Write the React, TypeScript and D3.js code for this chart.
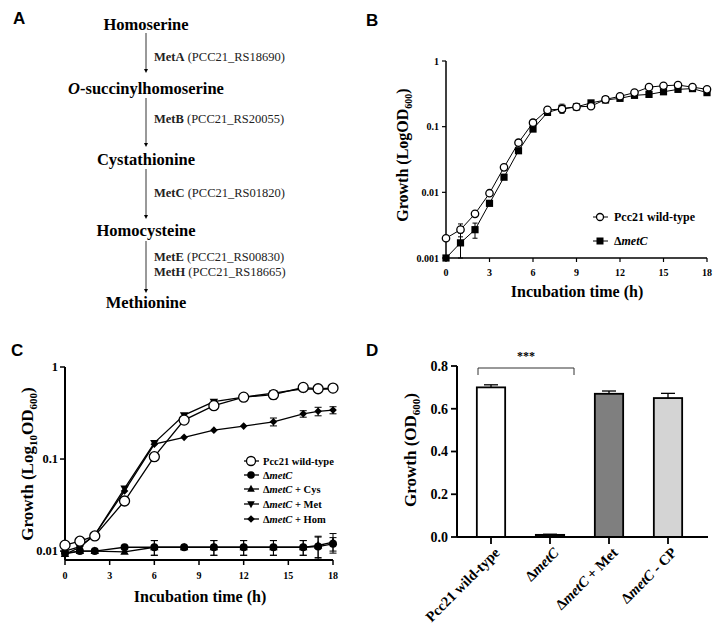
import React from 'react';
import * as d3 from 'd3';

// ---------- Panel A: pathway ----------
const pathwaySteps = ['Homoserine', 'O-succinylhomoserine', 'Cystathionine', 'Homocysteine', 'Methionine'];
const enzymeLabels = [
  [['MetA', 'PCC21_RS18690']],
  [['MetB', 'PCC21_RS20055']],
  [['MetC', 'PCC21_RS01820']],
  [['MetE', 'PCC21_RS00830'], ['MetH', 'PCC21_RS18665']],
];

// ---------- Panel B ----------
const hoursB = [0, 1, 2, 3, 4, 5, 6, 7, 8, 9, 10, 11, 12, 13, 14, 15, 16, 17, 18];
const wtB = [0.002, 0.0027, 0.0047, 0.0097, 0.024, 0.057, 0.115, 0.18, 0.185, 0.2, 0.205, 0.26, 0.29, 0.33, 0.4, 0.42, 0.43, 0.4, 0.37];
const wtBErr = [0, 0.0006, 0, 0, 0, 0, 0, 0, 0.02, 0, 0, 0, 0, 0, 0, 0, 0, 0, 0];
const metCB = [0.001, 0.0017, 0.0027, 0.0068, 0.017, 0.043, 0.092, 0.165, 0.19, 0.2, 0.23, 0.255, 0.27, 0.3, 0.31, 0.34, 0.37, 0.38, 0.33];
const metCBErr = [0, 0.0007, 0.0007, 0, 0, 0, 0, 0, 0.03, 0, 0, 0, 0, 0, 0, 0, 0, 0, 0];
const ticksB = [0, 3, 6, 9, 12, 15, 18];
const yTicksB = [0.001, 0.01, 0.1, 1];

// ---------- Panel C ----------
const hoursC = [0, 1, 2, 4, 6, 8, 10, 12, 14, 16, 17, 18];
const wtC = [0.0116, 0.0128, 0.0146, 0.035, 0.106, 0.265, 0.38, 0.47, 0.5, 0.6, 0.58, 0.59];
const wtCErr = [0, 0, 0, 0, 0, 0, 0.02, 0, 0.05, 0, 0, 0];
const metCC = [0.0095, 0.01, 0.01, 0.011, 0.011, 0.011, 0.011, 0.011, 0.011, 0.011, 0.0112, 0.012];
const metCCErr = [0, 0, 0, 0, 0.002, 0, 0.002, 0.002, 0.002, 0.002, 0.003, 0.002];
const cysC = [0.0093, 0.01, 0.01, 0.0098, 0.011, 0.011, 0.011, 0.011, 0.011, 0.011, 0.0115, 0.0125];
const cysCErr = [0, 0, 0, 0, 0.002, 0, 0.002, 0.002, 0.002, 0.002, 0.003, 0.003];
const metC_Met = [0.0092, 0.011, 0.015, 0.048, 0.15, 0.3, 0.42, 0.47, 0.52, 0.58, 0.57, 0.58];
const metC_Hom = [0.01, 0.0112, 0.015, 0.045, 0.145, 0.172, 0.206, 0.228, 0.254, 0.31, 0.33, 0.34];
const homErr = [0, 0, 0, 0, 0, 0, 0, 0, 0.025, 0.025, 0.035, 0.03];
const ticksC = [0, 3, 6, 9, 12, 15, 18];
const yTicksC = [0.01, 0.1, 1];

// ---------- Panel D ----------
const groupsD = ['Pcc21 wild-type', 'ΔmetC', 'ΔmetC + Met', 'ΔmetC - CP'];
const valuesD = [0.7, 0.01, 0.67, 0.65];
const errorsD = [0.012, 0.003, 0.013, 0.022];
const colorsD = ['#ffffff', '#111111', '#7f7f7f', '#d4d4d4'];
const yTicksD = [0, 0.2, 0.4, 0.6, 0.8];

const SERIF = "'Liberation Serif', 'Times New Roman', serif";
const SANS = "'Liberation Sans', Arial, sans-serif";

type MarkerType = 'openCircle' | 'filledCircle' | 'square' | 'triUp' | 'triDown' | 'diamond';

function Marker({ type, x, y, s }: { type: MarkerType; x: number; y: number; s: number }) {
  switch (type) {
    case 'openCircle':
      return <circle cx={x} cy={y} r={s} fill="#fff" stroke="#000" strokeWidth={1.3} />;
    case 'filledCircle':
      return <circle cx={x} cy={y} r={s} fill="#000" />;
    case 'square':
      return <rect x={x - s} y={y - s} width={2 * s} height={2 * s} fill="#000" />;
    case 'triUp':
      return <path d={`M${x},${y - s * 1.1}L${x + s},${y + s * 0.7}L${x - s},${y + s * 0.7}Z`} fill="#000" />;
    case 'triDown':
      return <path d={`M${x},${y + s * 1.1}L${x + s},${y - s * 0.7}L${x - s},${y - s * 0.7}Z`} fill="#000" />;
    case 'diamond':
      return <path d={`M${x},${y - s}L${x + s},${y}L${x},${y + s}L${x - s},${y}Z`} fill="#000" />;
  }
  return null;
}

function ErrorBars({ xs, ys, errs, x, y, cap }: any) {
  return (
    <g stroke="#000" strokeWidth={1}>
      {xs.map((h: number, i: number) => {
        const e = errs[i];
        if (!e) return null;
        const cx = x(h);
        const y1 = y(ys[i] + e);
        const y0 = y(Math.max(ys[i] - e, y.domain()[0]));
        return (
          <g key={i}>
            <line x1={cx} x2={cx} y1={y0} y2={y1} />
            <line x1={cx - cap} x2={cx + cap} y1={y1} y2={y1} />
            <line x1={cx - cap} x2={cx + cap} y1={y0} y2={y0} />
          </g>
        );
      })}
    </g>
  );
}

function Series({ xs, ys, x, y, type, s, lw }: any) {
  const line = d3.line<number>().x((_, i) => x(xs[i])).y((d) => y(d));
  return (
    <g>
      <path d={line(ys) || ''} fill="none" stroke="#000" strokeWidth={lw} />
      {ys.map((v: number, i: number) => (
        <Marker key={i} type={type} x={x(xs[i])} y={y(v)} s={s} />
      ))}
    </g>
  );
}

function PanelA() {
  const cx = 146;
  const ys = [24, 88, 159, 230, 302];
  const arrows = [[33, 73], [98, 147], [169, 219], [241, 293]];
  const labelY = [[57], [119], [193], [257, 272]];
  return (
    <g fontFamily={SERIF}>
      <text x={13} y={24} fontFamily={SANS} fontWeight="bold" fontSize={17}>A</text>
      {pathwaySteps.map((s, i) => (
        <text key={s} x={cx} y={ys[i]} dy="0.35em" textAnchor="middle" fontWeight="bold" fontSize={16.5}>
          {s.startsWith('O-') ? (<><tspan fontStyle="italic">O</tspan>{s.slice(1)}</>) : s}
        </text>
      ))}
      {arrows.map(([a, b], i) => (
        <g key={i}>
          <line x1={cx} x2={cx} y1={a} y2={b - 3} stroke="#000" strokeWidth={0.8} />
          <path d={`M${cx - 2},${b - 4}L${cx + 2},${b - 4}L${cx},${b}Z`} fill="#000" />
        </g>
      ))}
      {enzymeLabels.map((grp, i) =>
        grp.map(([e, g], j) => (
          <text key={`${i}-${j}`} x={154} y={labelY[i][j]} dy="0.35em" fontSize={12.5} fill="#222">
            <tspan fontWeight="bold">{e}</tspan> ({g})
          </text>
        ))
      )}
    </g>
  );
}

function PanelB() {
  const x = d3.scaleLinear().domain([0, 18]).range([446, 707]);
  const y = d3.scaleLog().domain([0.001, 1]).range([258, 61]);
  return (
    <g fontFamily={SERIF}>
      <text x={366} y={26} fontFamily={SANS} fontWeight="bold" fontSize={17}>B</text>
      <line x1={446} x2={446} y1={y(1)} y2={258} stroke="#000" strokeWidth={1.5} />
      <line x1={446} x2={707} y1={258} y2={258} stroke="#000" strokeWidth={1.5} />
      {yTicksB.map((t) => (
        <g key={t}>
          <line x1={442} x2={446} y1={y(t)} y2={y(t)} stroke="#000" strokeWidth={1.2} />
          <text x={439} y={y(t)} dy="0.35em" textAnchor="end" fontSize={10} fontWeight="bold">{String(t)}</text>
        </g>
      ))}
      {ticksB.map((t) => (
        <g key={t}>
          <line x1={x(t)} x2={x(t)} y1={258} y2={262} stroke="#000" strokeWidth={1.2} />
          <text x={x(t)} y={272} dy="0.35em" textAnchor="middle" fontSize={10} fontWeight="bold">{t}</text>
        </g>
      ))}
      <text x={577} y={291} dy="0.35em" textAnchor="middle" fontSize={16} fontWeight="bold">Incubation time (h)</text>
      <text transform="translate(402,155) rotate(-90)" dy="0.35em" textAnchor="middle" fontSize={16} fontWeight="bold">
        Growth (LogOD<tspan fontSize={10} dy="4">600</tspan><tspan dy="-4">)</tspan>
      </text>
      <ErrorBars xs={hoursB} ys={metCB} errs={metCBErr} x={x} y={y} cap={2.5} />
      <ErrorBars xs={hoursB} ys={wtB} errs={wtBErr} x={x} y={y} cap={2.5} />
      <Series xs={hoursB} ys={metCB} x={x} y={y} type="square" s={3.6} lw={1} />
      <Series xs={hoursB} ys={wtB} x={x} y={y} type="openCircle" s={3.7} lw={1} />
      <g>
        <line x1={593} x2={608} y1={217} y2={217} stroke="#000" />
        <Marker type="openCircle" x={600} y={217} s={3.5} />
        <text x={614} y={217} dy="0.35em" fontSize={12} fontWeight="bold">Pcc21 wild-type</text>
        <line x1={593} x2={608} y1={241} y2={241} stroke="#000" />
        <Marker type="square" x={600} y={241} s={3.5} />
        <text x={614} y={241} dy="0.35em" fontSize={12} fontWeight="bold">Δ<tspan fontStyle="italic">metC</tspan></text>
      </g>
    </g>
  );
}

function PanelC() {
  const x = d3.scaleLinear().domain([0, 18]).range([65, 333]);
  const y = d3.scaleLog().domain([0.008, 1]).range([560, 367]);
  const legend: [MarkerType, React.ReactNode, number][] = [
    ['openCircle', 'Pcc21 wild-type', 461],
    ['filledCircle', <>Δ<tspan fontStyle="italic">metC</tspan></>, 475],
    ['triUp', <>Δ<tspan fontStyle="italic">metC</tspan> + Cys</>, 489],
    ['triDown', <>Δ<tspan fontStyle="italic">metC</tspan> + Met</>, 504],
    ['diamond', <>Δ<tspan fontStyle="italic">metC</tspan> + Hom</>, 519],
  ];
  return (
    <g fontFamily={SERIF}>
      <text x={11} y={356} fontFamily={SANS} fontWeight="bold" fontSize={17}>C</text>
      <line x1={65} x2={65} y1={367} y2={560} stroke="#000" strokeWidth={2} />
      <line x1={65} x2={333} y1={560} y2={560} stroke="#000" strokeWidth={2} />
      {yTicksC.map((t) => (
        <g key={t}>
          <line x1={60} x2={65} y1={y(t)} y2={y(t)} stroke="#000" strokeWidth={1.5} />
          <text x={58} y={y(t)} dy="0.35em" textAnchor="end" fontSize={12.5} fontWeight="bold">{String(t)}</text>
        </g>
      ))}
      {ticksC.map((t) => (
        <g key={t}>
          <line x1={x(t)} x2={x(t)} y1={560} y2={565} stroke="#000" strokeWidth={1.5} />
          <text x={x(t)} y={575} dy="0.35em" textAnchor="middle" fontSize={10} fontWeight="bold">{t}</text>
        </g>
      ))}
      <text x={200} y={596} dy="0.35em" textAnchor="middle" fontSize={16} fontWeight="bold">Incubation time (h)</text>
      <text transform="translate(27,464) rotate(-90)" dy="0.35em" textAnchor="middle" fontSize={17} fontWeight="bold">
        Growth (Log<tspan fontSize={11} dy="4">10</tspan><tspan dy="-4">OD</tspan><tspan fontSize={11} dy="4">600</tspan><tspan dy="-4">)</tspan>
      </text>
      <ErrorBars xs={hoursC} ys={metCC} errs={metCCErr} x={x} y={y} cap={3.5} />
      <ErrorBars xs={hoursC} ys={cysC} errs={cysCErr} x={x} y={y} cap={3.5} />
      <ErrorBars xs={hoursC} ys={metC_Hom} errs={homErr} x={x} y={y} cap={3.5} />
      <ErrorBars xs={hoursC} ys={wtC} errs={wtCErr} x={x} y={y} cap={3.5} />
      <Series xs={hoursC} ys={cysC} x={x} y={y} type="triUp" s={4.2} lw={1.3} />
      <Series xs={hoursC} ys={metCC} x={x} y={y} type="filledCircle" s={4} lw={1.3} />
      <Series xs={hoursC} ys={metC_Hom} x={x} y={y} type="diamond" s={3.8} lw={1.3} />
      <Series xs={hoursC} ys={metC_Met} x={x} y={y} type="triDown" s={4.2} lw={1.3} />
      <Series xs={hoursC} ys={wtC} x={x} y={y} type="openCircle" s={5} lw={1.3} />
      {legend.map(([m, label, ly]) => (
        <g key={ly}>
          <line x1={244} x2={259} y1={ly} y2={ly} stroke="#000" strokeWidth={1.3} />
          <Marker type={m} x={251} y={ly} s={m === 'openCircle' ? 4.5 : 3.8} />
          <text x={263} y={ly} dy="0.35em" fontSize={10.5} fontWeight="bold">{label}</text>
        </g>
      ))}
    </g>
  );
}

function PanelD() {
  const x = d3.scaleBand().domain(groupsD).range([461.5, 697.5]).paddingInner(0.52).paddingOuter(0.26);
  const y = d3.scaleLinear().domain([0, 0.8]).range([537, 366]);
  const bw = x.bandwidth();
  const cx = (g: string) => (x(g) as number) + bw / 2;
  return (
    <g fontFamily={SERIF}>
      <text x={366} y={356} fontFamily={SANS} fontWeight="bold" fontSize={17}>D</text>
      {groupsD.map((g, i) => (
        <g key={g}>
          <line x1={cx(g)} x2={cx(g)} y1={y(valuesD[i] + errorsD[i])} y2={y(valuesD[i])} stroke="#000" strokeWidth={1.3} />
          <line x1={cx(g) - 7} x2={cx(g) + 7} y1={y(valuesD[i] + errorsD[i])} y2={y(valuesD[i] + errorsD[i])} stroke="#000" strokeWidth={1.3} />
          <line x1={cx(g) - 7} x2={cx(g) + 7} y1={y(valuesD[i] - errorsD[i])} y2={y(valuesD[i] - errorsD[i])} stroke="#000" strokeWidth={1.3} />
          <rect x={x(g)} y={y(valuesD[i])} width={bw} height={537 - y(valuesD[i])} fill={colorsD[i]} stroke="#000" strokeWidth={1.8} />
        </g>
      ))}
      <line x1={457} x2={457} y1={366} y2={537} stroke="#000" strokeWidth={2} />
      <line x1={457} x2={708} y1={537} y2={537} stroke="#000" strokeWidth={2} />
      {yTicksD.map((t) => (
        <g key={t}>
          <line x1={451} x2={457} y1={y(t)} y2={y(t)} stroke="#000" strokeWidth={1.8} />
          <text x={448} y={y(t)} dy="0.35em" textAnchor="end" fontSize={14} fontWeight="bold">{d3.format('.1f')(t)}</text>
        </g>
      ))}
      {groupsD.map((g) => (
        <g key={g}>
          <line x1={cx(g)} x2={cx(g)} y1={537} y2={544} stroke="#000" strokeWidth={1.8} />
          <text transform={`translate(${cx(g) + 6},${550}) rotate(-45)`} textAnchor="end" dy="0.35em" fontSize={14.5} fontWeight="bold">
            {g.startsWith('Δ') ? (<>Δ<tspan fontStyle="italic">metC</tspan>{g.slice(5)}</>) : g}
          </text>
        </g>
      ))}
      <text transform="translate(410,450) rotate(-90)" dy="0.35em" textAnchor="middle" fontSize={17} fontWeight="bold">
        Growth (OD<tspan fontSize={11} dy="4">600</tspan><tspan dy="-4">)</tspan>
      </text>
      <path d={`M${cx(groupsD[0]) - 13},375V368H574V375`} fill="none" stroke="#333" strokeWidth={1} />
      <text x={526} y={360} textAnchor="middle" fontSize={12} fontWeight="bold">***</text>
    </g>
  );
}

export default function App() {
  return (
    <svg width={721} height={637} style={{ position: 'absolute', left: 0, top: 0, background: '#fff' }}>
      <rect width={721} height={637} fill="#fff" />
      <PanelA />
      <PanelB />
      <PanelC />
      <PanelD />
    </svg>
  );
}
